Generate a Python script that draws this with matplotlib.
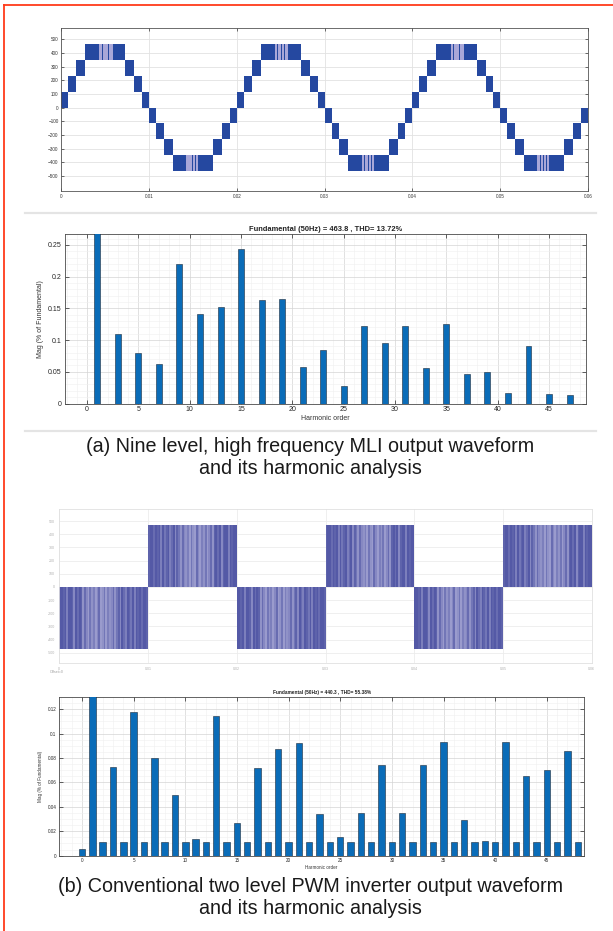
import numpy as np
import matplotlib
matplotlib.use("Agg")
import matplotlib.pyplot as plt
from matplotlib.ticker import MultipleLocator, FuncFormatter

plt.rcParams['font.family'] = ['Liberation Sans', 'DejaVu Sans']

W, H = 613, 931

# ---------------- nine-level MLI waveform (one period, ms) ----------------
period_ms = 20.0
n_periods = 3
block_start_ms = [0.0, 0.80, 1.67, 2.70, 7.30, 8.33, 9.20, 10.0, 10.80, 11.67, 12.70, 17.30, 18.33, 19.20]
block_end_ms = [0.80, 1.67, 2.70, 7.30, 8.33, 9.20, 10.0, 10.80, 11.67, 12.70, 17.30, 18.33, 19.20, 20.0]
block_lo = [0, 116, 232, 348, 232, 116, 0, -116, -232, -348, -464, -348, -232, -116]
block_hi = [116, 232, 348, 464, 348, 232, 116, 0, -116, -232, -348, -232, -116, 0]
# lighter switching stripes near each peak (start, end in ms within a period)
pos_peak_stripes_ms = [(4.35, 4.62), (4.72, 5.05), (5.12, 5.35), (5.45, 5.85)]
neg_peak_stripes_ms = [(14.2, 14.5), (14.6, 14.9), (15.0, 15.25), (15.35, 15.6)]
wave1_yticks = [-500, -400, -300, -200, -100, 0, 100, 200, 300, 400, 500]
wave1_xticks = [0, 0.01, 0.02, 0.03, 0.04, 0.05, 0.06]
wave1_xticklabels = ['0', '0.01', '0.02', '0.03', '0.04', '0.05', '0.06']

# ---------------- harmonic spectrum, nine-level MLI ----------------
mli_orders = list(range(0, 49))
mli_mag = [0, 1.0, 0, 0.110, 0, 0.079, 0, 0.063, 0, 0.220, 0, 0.141, 0, 0.152, 0, 0.243,
           0, 0.163, 0, 0.165, 0, 0.057, 0, 0.085, 0, 0.027, 0, 0.122, 0, 0.095, 0, 0.122,
           0, 0.056, 0, 0.125, 0, 0.047, 0, 0.050, 0, 0.017, 0, 0.090, 0, 0.015, 0, 0.013, 0]
mli_title = 'Fundamental (50Hz) = 463.8 , THD= 13.72%'

# ---------------- two-level PWM waveform ----------------
pwm_half_ms = 10.0
pwm_amp = 470
pwm_signs = [-1, 1, -1, 1, -1, 1]
# relative darkness of the switching stripes across one half-cycle
pwm_shade = [1, 1, .9, 1, .6, 1, 1, .9, .5, 1, .8, 1, .9, .4, .8, .5, .3, .7, .4, .6,
             .3, .5, .8, .3, .4, .7, .3, .6, .4, .5, .8, .4, .7, .9, .5, 1, .8, .6, 1, .9,
             .7, 1, .6, 1, .9, 1, .8, 1, 1, .9]
wave2_yticks = [-500, -400, -300, -200, -100, 0, 100, 200, 300, 400, 500]
wave2_xticks = [0, 0.01, 0.02, 0.03, 0.04, 0.05, 0.06]

# ---------------- harmonic spectrum, two-level PWM ----------------
pwm_orders = list(range(0, 49))
pwm_mag = [0.0055, 1.0, 0.011, 0.073, 0.011, 0.1177, 0.011, 0.080, 0.011, 0.050,
           0.011, 0.0134, 0.011, 0.1145, 0.011, 0.0265, 0.011, 0.0715, 0.011, 0.0873,
           0.011, 0.0925, 0.011, 0.034, 0.011, 0.0153, 0.011, 0.035, 0.011, 0.074,
           0.011, 0.035, 0.011, 0.0747, 0.011, 0.093, 0.011, 0.0295, 0.011, 0.0118,
           0.011, 0.093, 0.011, 0.0655, 0.011, 0.070, 0.011, 0.086, 0.011]
pwm_title = 'Fundamental (50Hz) = 440.3 , THD= 55.38%'

caption_a = ['(a) Nine level, high frequency MLI output waveform', 'and its harmonic analysis']
caption_b = ['(b) Conventional two level PWM inverter output waveform', 'and its harmonic analysis']

BAR_BLUE = '#0a6cb8'
WAVE_BLUE = '#2548a0'
STRIPE = '#a9a7d8'
CAPTION_SIZE = 14.2

short_num = FuncFormatter(lambda v, pos: '%g' % round(v, 6))


def px_axes(fig, x0, y0, x1, y1):
    return fig.add_axes([x0 / W, 1 - y1 / H, (x1 - x0) / W, (y1 - y0) / H])


fig = plt.figure(figsize=(W / 100, H / 100), dpi=100)
fig.patch.set_facecolor('white')

# ---- red frame lines along the top and left ----
fig.add_artist(plt.Line2D([4.3 / W, 1], [1 - 5 / H, 1 - 5 / H], color='#ff3b1a', lw=1.3))
fig.add_artist(plt.Line2D([4.3 / W, 4.3 / W], [0, 1 - 5 / H], color='#ff3b1a', lw=1.3))

# ---- separators ----
for ysep in (212.7, 430.7):
    fig.add_artist(plt.Line2D([25 / W, 596 / W], [1 - ysep / H] * 2, color='#e4e4e4', lw=1.6))

# ================= panel 1: nine-level waveform =================
ax1 = px_axes(fig, 61.3, 28.3, 588, 191)
for p in range(n_periods):
    off = p * period_ms
    for s, e, lo, hi in zip(block_start_ms, block_end_ms, block_lo, block_hi):
        ax1.bar((off + s) / 1000, hi - lo, bottom=lo, width=(e - s) / 1000,
                align='edge', color=WAVE_BLUE, lw=0)
    for s, e in pos_peak_stripes_ms:
        ax1.bar((off + s) / 1000, block_hi[3] - block_lo[3], bottom=block_lo[3],
                width=(e - s) / 1000, align='edge', color=STRIPE, lw=0)
    for s, e in neg_peak_stripes_ms:
        ax1.bar((off + s) / 1000, block_hi[10] - block_lo[10], bottom=block_lo[10],
                width=(e - s) / 1000, align='edge', color=STRIPE, lw=0)
ax1.set_xlim(0, 0.06)
ax1.set_ylim(-610, 580)
ax1.set_yticks(wave1_yticks)
ax1.set_xticks(wave1_xticks)
ax1.set_xticklabels(wave1_xticklabels)
ax1.grid(True, color='#e2e2e2', lw=0.6)
ax1.set_axisbelow(True)
ax1.tick_params(direction='in', length=2.5, width=0.5, labelsize=3.3, colors='#333333',
                top=True, right=True, pad=2)
for sp in ax1.spines.values():
    sp.set_color('#555555')
    sp.set_linewidth(0.6)


# ================= bar chart helper =================
def spectrum(ax, orders, mags, ylim, ymajor, yminor, title, width, fs_tick, fs_title, fs_label):
    ax.bar(orders, mags, width=width, color=BAR_BLUE, edgecolor='#1b2a3a', lw=0.4, zorder=3)
    ax.set_xlim(-2.2, 48.6)
    ax.set_ylim(0, ylim)
    ax.xaxis.set_major_locator(MultipleLocator(5))
    ax.xaxis.set_minor_locator(MultipleLocator(1))
    ax.yaxis.set_major_locator(MultipleLocator(ymajor))
    ax.yaxis.set_minor_locator(MultipleLocator(yminor))
    ax.yaxis.set_major_formatter(short_num)
    ax.grid(True, which='major', color='#d4d4d4', lw=0.5)
    ax.grid(True, which='minor', color='#efefef', lw=0.4)
    ax.set_axisbelow(True)
    ax.tick_params(which='major', direction='in', length=3, width=0.5, labelsize=fs_tick,
                   colors='#262626', top=True, right=True, pad=2)
    ax.tick_params(which='minor', length=0, top=True, right=True)
    ax.set_title(title, fontsize=fs_title, fontweight='bold', pad=2.5, color='#222222')
    ax.set_xlabel('Harmonic order', fontsize=fs_label, labelpad=1, color='#333333')
    ax.set_ylabel('Mag (% of Fundamental)', fontsize=fs_label, labelpad=3, color='#333333')
    for sp in ax.spines.values():
        sp.set_color('#4a4a4a')
        sp.set_linewidth(0.6)


ax2 = px_axes(fig, 64.5, 234.3, 586, 403.5)
spectrum(ax2, mli_orders, mli_mag, 0.2667, 0.05, 0.01, mli_title, 0.58, 5.0, 5.4, 5.0)

fig.text(310 / W, 1 - 446.7 / H, caption_a[0], ha='center', va='center',
         fontsize=CAPTION_SIZE, color='#1a1a1a')
fig.text(310 / W, 1 - 468.3 / H, caption_a[1], ha='center', va='center',
         fontsize=CAPTION_SIZE, color='#1a1a1a')

# ================= panel 3: two-level PWM waveform =================
ax3 = px_axes(fig, 59.3, 509.3, 591.7, 663.3)
dark = np.array([0.33, 0.35, 0.65])
light = np.array([0.72, 0.72, 0.87])
n_str = len(pwm_shade)
for k, sgn in enumerate(pwm_signs):
    t0 = k * pwm_half_ms
    shades = pwm_shade if k % 2 == 0 else pwm_shade[::-1]
    for j, sh in enumerate(shades):
        col = light + (dark - light) * sh
        ax3.bar((t0 + j * pwm_half_ms / n_str) / 1000, sgn * pwm_amp, bottom=0,
                width=pwm_half_ms / n_str / 1000, align='edge', color=col, lw=0)
ax3.set_xlim(0, 0.06)
ax3.set_ylim(-580, 590)
ax3.set_yticks(wave2_yticks)
ax3.set_xticks(wave2_xticks)
ax3.set_yticklabels([str(v) for v in wave2_yticks])
ax3.set_xticklabels(['0', '0.01', '0.02', '0.03', '0.04', '0.05', '0.06'])
ax3.grid(True, color='#ececec', lw=0.6)
ax3.set_axisbelow(True)
ax3.tick_params(direction='in', length=0, labelsize=2.6, colors='#b0b0b0', pad=3)
for sp in ax3.spines.values():
    sp.set_color('#e0e0e0')
    sp.set_linewidth(0.6)
fig.text(56.7 / W, 1 - 671.7 / H, 'Offset=0', ha='center', va='center', fontsize=2.6, color='#a0a0a0')

# ================= panel 4: two-level PWM spectrum =================
ax4 = px_axes(fig, 59.3, 697.3, 584, 855.7)
spectrum(ax4, pwm_orders, pwm_mag, 0.1298, 0.02, 0.005, pwm_title, 0.62, 3.3, 3.4, 3.3)

fig.text(310 / W, 1 - 887 / H, caption_b[0], ha='center', va='center',
         fontsize=CAPTION_SIZE, color='#1a1a1a')
fig.text(310 / W, 1 - 909 / H, caption_b[1], ha='center', va='center',
         fontsize=CAPTION_SIZE, color='#1a1a1a')

fig.savefig('out.png', dpi=100)
